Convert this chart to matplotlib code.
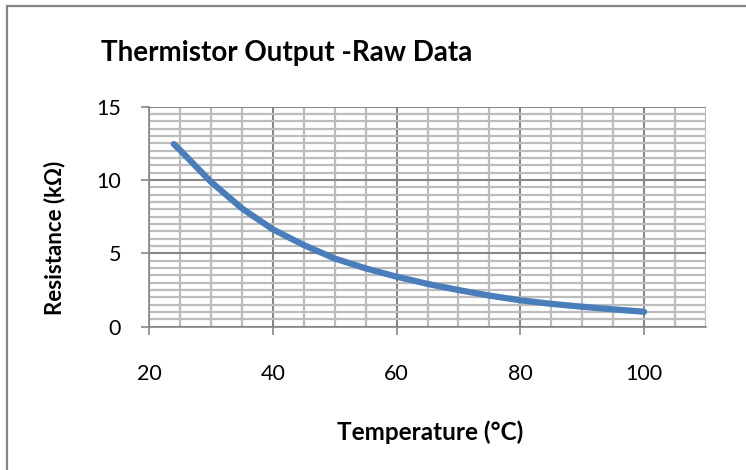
import matplotlib
matplotlib.use("Agg")
import matplotlib.pyplot as plt
from matplotlib.patches import Rectangle
from matplotlib.ticker import MultipleLocator

# Data
temperature_c = [24, 25, 30, 35, 40, 45, 50, 55, 60, 65, 70, 75, 80, 85, 90, 95, 100]
resistance_kohm = [12.45, 12.05, 9.88, 8.07, 6.64, 5.57, 4.65, 3.98, 3.41, 2.92, 2.50, 2.12, 1.80, 1.56, 1.36, 1.18, 1.02]

title_text = "Thermistor Output -Raw Data"
x_label = "Temperature (°C)"
y_label = "Resistance (kΩ)"
x_ticks = [20, 40, 60, 80, 100]
y_ticks = [0, 5, 10, 15]

FONT = "Lato"
W, H = 746, 470
fig = plt.figure(figsize=(W / 100, H / 100), dpi=100)

# Chart area border (only top/left visible in reference)
fig.add_artist(Rectangle((7 / W, -0.1), 2.0, 1.1 - 6 / H, transform=fig.transFigure,
                         fill=False, edgecolor="#868686", linewidth=1.6))

ax = fig.add_axes([149 / W, 1 - 326.7 / H, (706 - 149) / W, (326.7 - 106.7) / H])
ax.set_xlim(20, 110)
ax.set_ylim(0, 15)

ax.xaxis.set_minor_locator(MultipleLocator(5))
ax.yaxis.set_minor_locator(MultipleLocator(0.5))
ax.set_xticks(x_ticks)
ax.set_yticks(y_ticks)

ax.grid(which="minor", color="#bcbcbc", linewidth=1.6, zorder=0)
ax.grid(which="major", color="#878787", linewidth=1.5, zorder=0.5)
ax.set_axisbelow(True)

for s in ["top", "right"]:
    ax.spines[s].set_visible(False)
ax.spines["left"].set_color("#868686")
ax.spines["bottom"].set_color("#868686")
ax.spines["left"].set_linewidth(1.2)
ax.spines["bottom"].set_linewidth(1.2)

ax.tick_params(which="major", direction="out", length=6, width=1.2, color="#868686",
               labelsize=15.5)
ax.tick_params(which="minor", length=0)
ax.tick_params(axis="x", pad=21)
ax.tick_params(axis="y", pad=14)
for lbl in ax.get_xticklabels() + ax.get_yticklabels():
    lbl.set_fontfamily(FONT)

ax.plot(temperature_c, resistance_kohm, color="#4a7ebb", linewidth=4.5,
        solid_capstyle="round", zorder=3)

fig.text(287 / W, 1 - 53 / H, title_text, fontsize=20, fontweight="bold",
         family=FONT, ha="center", va="center")
fig.text(430 / W, 1 - 432 / H, x_label, fontsize=17.5, fontweight="bold",
         family=FONT, ha="center", va="center")
fig.text(55 / W, 1 - 238 / H, y_label, fontsize=16, fontweight="bold",
         family=FONT, ha="center", va="center", rotation=90)

fig.savefig("out.png", dpi=100)
